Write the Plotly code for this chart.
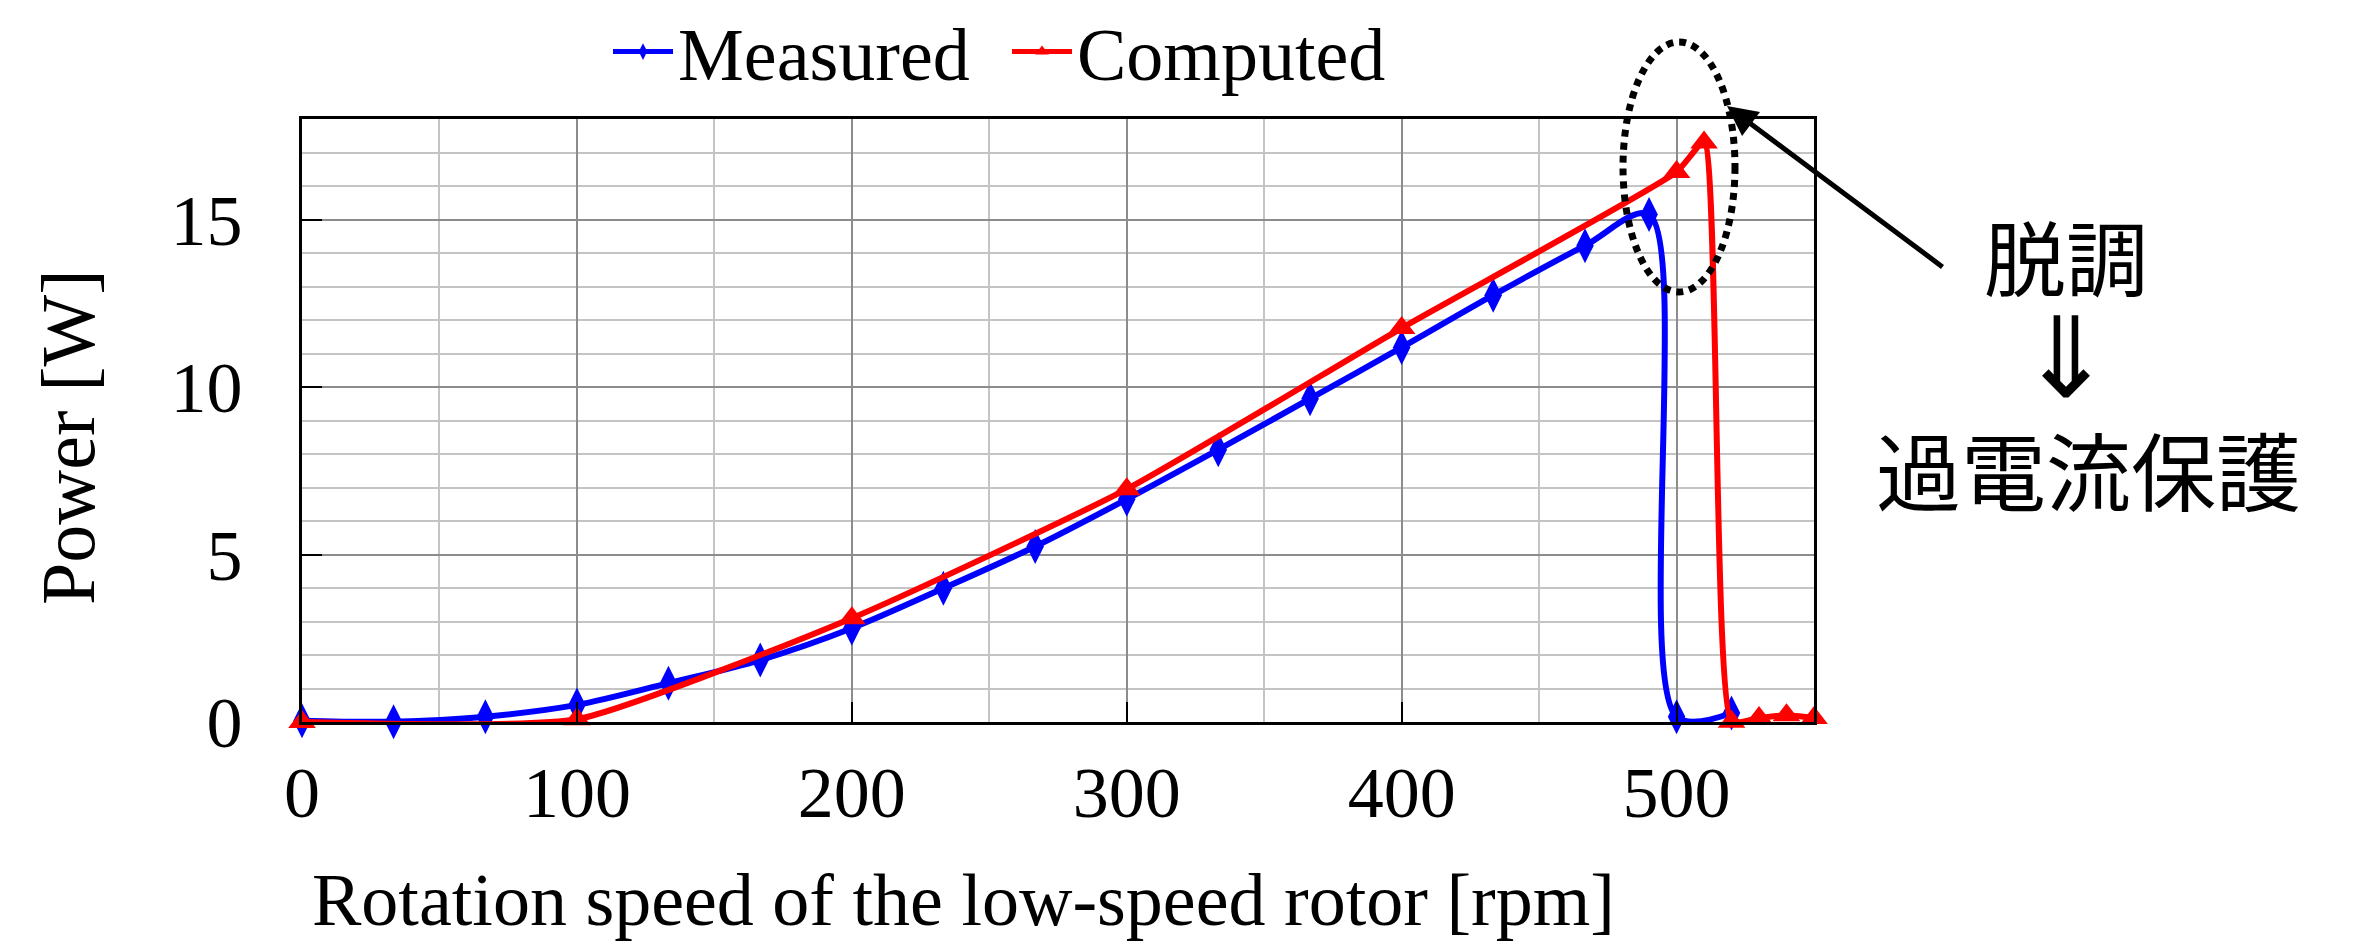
import plotly.graph_objects as go

# Data
meas_x = [0, 33.3, 66.7, 100, 133.3, 166.7, 200, 233.3, 266.7, 300, 333.3, 366.7, 400, 433.3, 466.7, 490, 500, 520]
meas_y = [0.04, 0.01, 0.16, 0.51, 1.16, 1.85, 2.80, 3.99, 5.24, 6.65, 8.13, 9.65, 11.18, 12.74, 14.22, 15.15, 0.16, 0.27]
comp_x = [0, 100, 200, 300, 400, 500, 510, 520, 530, 540, 550]
comp_y = [0.0, 0.08, 3.10, 6.95, 11.76, 16.42, 17.30, 0.01, 0.12, 0.20, 0.12]

x_ticks = [0, 100, 200, 300, 400, 500]
y_ticks = [0, 5, 10, 15]

note_top = "脱調"
note_arrow = "⇓"
note_bottom = "過電流保護"

SERIF = "Liberation Serif, Times New Roman, serif"
CJK = "Noto Sans CJK JP"

W, H = 2365, 946
L, R, T, B = 302, 1814, 119, 722


def px(x):
    return (x - L) / (R - L)


def py(y):
    return (B - y) / (B - T)


fig = go.Figure()
fig.add_trace(go.Scatter(
    x=meas_x, y=meas_y, name="Measured", mode="lines+markers",
    line=dict(color="#0000ff", width=6, shape="spline", smoothing=0.9),
    marker=dict(symbol="diamond-tall", size=25, color="#0000ff"),
    cliponaxis=False,
))
fig.add_trace(go.Scatter(
    x=comp_x, y=comp_y, name="Computed", mode="lines+markers",
    line=dict(color="#ff0000", width=6, shape="spline", smoothing=0.5),
    marker=dict(symbol="triangle-up", size=24, color="#ff0000"),
    cliponaxis=False,
))

fig.update_layout(
    width=W, height=H,
    margin=dict(l=L, r=W - R, t=T, b=H - B, autoexpand=False),
    paper_bgcolor="white", plot_bgcolor="white",
    font=dict(family=SERIF, size=72, color="black"),
    showlegend=True,
    legend=dict(orientation="h", x=px(608), y=py(52), xanchor="left", yanchor="middle",
                font=dict(family=SERIF, size=74, color="black"),
                bgcolor="rgba(0,0,0,0)", itemwidth=60, tracegroupgap=0,
                entrywidth=324, entrywidthmode="pixels", itemsizing="constant"),
    xaxis=dict(range=[0, 550], tickvals=x_ticks, showgrid=True, gridcolor="#8c8c8c", gridwidth=2,
               minor=dict(dtick=50, tick0=0, showgrid=True, gridcolor="#c4c4c4", gridwidth=2),
               showline=True, mirror=True, linecolor="black", linewidth=3,
               ticks="inside", ticklen=20, tickwidth=2, tickcolor="black",
               zeroline=False, ticklabelstandoff=6,
               tickfont=dict(family=SERIF, size=72)),
    yaxis=dict(range=[0, 18], tickvals=y_ticks, showgrid=True, gridcolor="#8c8c8c", gridwidth=2,
               minor=dict(dtick=1, tick0=0, showgrid=True, gridcolor="#c4c4c4", gridwidth=2),
               showline=True, mirror=True, linecolor="black", linewidth=3,
               ticks="inside", ticklen=20, tickwidth=2, tickcolor="black",
               zeroline=False, ticklabelstandoff=42,
               tickfont=dict(family=SERIF, size=72)),
)

annotations = [
    dict(text="Rotation speed of the low-speed rotor [rpm]", x=px(963), y=py(900),
         xref="paper", yref="paper", xanchor="center", yanchor="middle", showarrow=False,
         font=dict(family=SERIF, size=74)),
    dict(text="Power [W]", x=px(68), y=py(437), xref="paper", yref="paper",
         xanchor="center", yanchor="middle", textangle=-90, showarrow=False,
         font=dict(family=SERIF, size=76)),
    dict(text=note_top, x=px(2066), y=py(255), xref="paper", yref="paper",
         xanchor="center", yanchor="middle", showarrow=False,
         font=dict(family=CJK, size=82)),
    dict(text=note_arrow, x=px(2066), y=py(348), xref="paper", yref="paper",
         xanchor="center", yanchor="middle", showarrow=False,
         font=dict(family=CJK, size=112)),
    dict(text=note_bottom, x=px(2088), y=py(468), xref="paper", yref="paper",
         xanchor="center", yanchor="middle", showarrow=False,
         font=dict(family=CJK, size=85)),
    dict(text="", x=px(1727), y=py(106), xref="paper", yref="paper",
         ax=1944 - 1727, ay=268 - 106, axref="pixel", ayref="pixel",
         showarrow=True, arrowhead=2, arrowsize=1.2, arrowwidth=5, arrowcolor="black"),
]
fig.update_layout(annotations=annotations)

fig.add_shape(type="circle", xref="paper", yref="paper",
              x0=px(1623), x1=px(1735), y0=py(292), y1=py(42),
              line=dict(color="black", width=7, dash="7px,6px"))

fig.write_html("out.html")
